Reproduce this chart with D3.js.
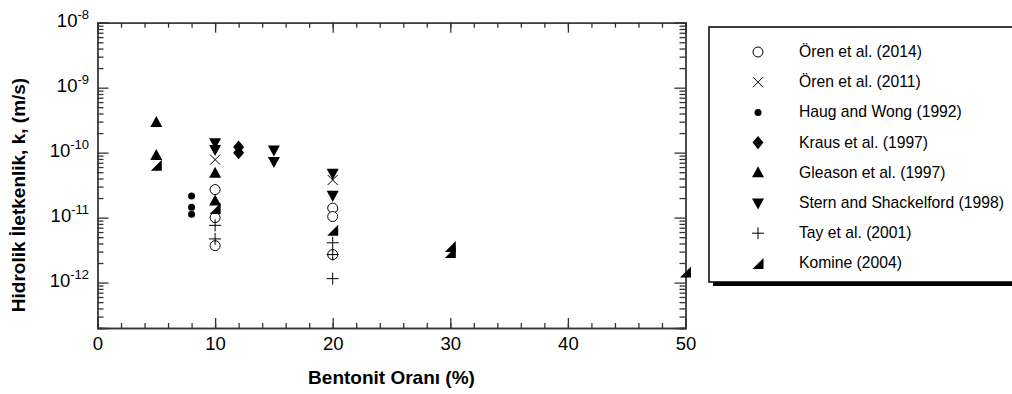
<!DOCTYPE html>
<html>
<head>
<meta charset="utf-8">
<script src="https://cdn.jsdelivr.net/npm/d3@7"></script>
<style>
  body { margin: 0; background: #fff; }
  text { font-family: "Liberation Sans", Arial, sans-serif; fill: #000; }
  .axis path, .axis line { stroke: #333; stroke-width: 1.3; }
</style>
</head>
<body>
<script>
// bentonite ratio (%) and hydraulic conductivity k (m/s)
var oren2014 = [[10, 2.7e-11], [10, 1.0e-11], [10, 3.7e-12], [20, 1.4e-11], [20, 1.04e-11], [20, 2.7e-12]];
var oren2011 = [[10, 7.8e-11], [20, 3.8e-11]];
var haugWong = [[8, 2.15e-11], [8, 1.45e-11], [8, 1.13e-11]];
var kraus = [[12, 1.22e-10], [12, 1.0e-10]];
var gleason = [[5, 2.9e-10], [5, 9.0e-11], [10, 4.8e-11], [10, 1.8e-11]];
var sternShack = [[10, 1.42e-10], [10, 1.12e-10], [15, 1.1e-10], [15, 7.3e-11], [20, 4.8e-11], [20, 2.2e-11]];
var tay = [[10, 7.6e-12], [10, 4.7e-12], [20, 4.1e-12], [20, 2.7e-12], [20, 1.15e-12]];
var komine = [[5, 6.4e-11], [10, 1.38e-11], [20, 6.4e-12], [30, 3.6e-12], [30, 2.9e-12], [50, 1.45e-12]];

var seriesNames = ["Ören et al. (2014)", "Ören et al. (2011)", "Haug and Wong (1992)", "Kraus et al. (1997)",
  "Gleason et al. (1997)", "Stern and Shackelford (1998)", "Tay et al. (2001)", "Komine (2004)"];
var seriesData = [oren2014, oren2011, haugWong, kraus, gleason, sternShack, tay, komine];

var xTickLabels = [0, 10, 20, 30, 40, 50];
var yDecades = [-12, -11, -10, -9, -8];

var width = 1012, height = 394;
var margin = {left: 97.5, right: 326.5, top: 22.7, bottom: 66};

var svg = d3.select("body").append("svg")
  .attr("width", width)
  .attr("height", height);

var x = d3.scaleLinear().domain([0, 50]).range([margin.left, width - margin.right]);
var y = d3.scaleLog().domain([2e-13, 1e-8]).range([height - margin.bottom, margin.top]);

// custom marker shapes, s = marker width in px
function shape(draw) { return {draw: function (ctx, size) { draw(ctx, Math.sqrt(size)); }}; }
var circleSym = shape(function (c, s) { var r = s / 2; c.moveTo(r, 0); c.arc(0, 0, r, 0, 2 * Math.PI); });
var xSym = shape(function (c, s) { var h = s / 2; c.moveTo(-h, -h); c.lineTo(h, h); c.moveTo(h, -h); c.lineTo(-h, h); });
var diamondSym = shape(function (c, s) { var w = s / 2, h = s * 0.6; c.moveTo(0, -h); c.lineTo(w, 0); c.lineTo(0, h); c.lineTo(-w, 0); c.closePath(); });
var triUpSym = shape(function (c, s) { var h = s / 2; c.moveTo(0, -h * 1.1); c.lineTo(h, h * 0.75); c.lineTo(-h, h * 0.75); c.closePath(); });
var triDownSym = shape(function (c, s) { var h = s / 2; c.moveTo(0, h * 1.1); c.lineTo(h, -h * 0.75); c.lineTo(-h, -h * 0.75); c.closePath(); });
var plusSym = shape(function (c, s) { var h = s / 2; c.moveTo(-h, 0); c.lineTo(h, 0); c.moveTo(0, -h); c.lineTo(0, h); });
var komineSym = shape(function (c, s) { var h = s / 2; c.moveTo(h, -h); c.lineTo(h, h); c.lineTo(-h, h); c.closePath(); });

var symStyles = [
  {type: circleSym, size: 10, fill: "#fff", stroke: "#000", sw: 1},
  {type: xSym, size: 10, fill: "none", stroke: "#000", sw: 1},
  {type: circleSym, size: 7, fill: "#000", stroke: "none", sw: 0},
  {type: diamondSym, size: 11, fill: "#000", stroke: "none", sw: 0},
  {type: triUpSym, size: 12, fill: "#000", stroke: "none", sw: 0},
  {type: triDownSym, size: 12, fill: "#000", stroke: "none", sw: 0},
  {type: plusSym, size: 12, fill: "none", stroke: "#000", sw: 1},
  {type: komineSym, size: 11, fill: "#000", stroke: "none", sw: 0}
];

function symPath(st) { return d3.symbol().type(st.type).size(st.size * st.size)(); }

// ticks
var xMinor = d3.range(0, 51, 2);
var yMinor = y.ticks().filter(function (v) { return Math.abs(Math.log10(v) - Math.round(Math.log10(v))) > 1e-6; });
var yMajor = yDecades.map(function (e) { return Math.pow(10, e); });

function addAxis(gen, tx, ty) {
  return svg.append("g").attr("class", "axis").attr("transform", "translate(" + tx + "," + ty + ")").call(gen);
}
var bottomY = height - margin.bottom, rightX = width - margin.right;
addAxis(d3.axisBottom(x).tickValues(xMinor).tickSize(-5).tickFormat(""), 0, bottomY);
addAxis(d3.axisTop(x).tickValues(xMinor).tickSize(-5).tickFormat(""), 0, margin.top);
addAxis(d3.axisLeft(y).tickValues(yMinor).tickSize(-6).tickFormat(""), margin.left, 0);
addAxis(d3.axisRight(y).tickValues(yMinor).tickSize(-6).tickFormat(""), rightX, 0);
var xAx = addAxis(d3.axisBottom(x).tickValues(xTickLabels).tickSize(-10).tickPadding(9).tickFormat(d3.format("d")), 0, bottomY);
xAx.selectAll("text").style("font-size", "18.5px");
addAxis(d3.axisTop(x).tickValues(xTickLabels).tickSize(-10).tickFormat(""), 0, margin.top);
addAxis(d3.axisLeft(y).tickValues(yMajor).tickSize(-11).tickFormat(""), margin.left, 0);
addAxis(d3.axisRight(y).tickValues(yMajor).tickSize(-11).tickFormat(""), rightX, 0);
svg.selectAll(".axis path.domain").attr("stroke", "#333");

// y tick labels as 10^n
yDecades.forEach(function (e) {
  var t = svg.append("text")
    .attr("x", 89)
    .attr("y", y(Math.pow(10, e)) + 4)
    .attr("text-anchor", "end")
    .style("font-size", "18.5px");
  t.append("tspan").text("10");
  t.append("tspan").attr("dy", -8).style("font-size", "13px").text("-" + (-e));
});

// axis titles
svg.append("text")
  .attr("x", (margin.left + rightX) / 2)
  .attr("y", 384)
  .attr("text-anchor", "middle")
  .style("font-size", "19px").style("font-weight", "bold")
  .text("Bentonit Oranı (%)");
svg.append("text")
  .attr("transform", "translate(25,195) rotate(-90)")
  .attr("text-anchor", "middle")
  .style("font-size", "19px").style("font-weight", "bold")
  .text("Hidrolik İletkenlik, k, (m/s)");

// points
seriesData.forEach(function (data, i) {
  var st = symStyles[i];
  svg.append("g").selectAll("path")
    .data(data)
    .enter()
    .append("path")
    .attr("d", symPath(st))
    .attr("transform", function (d) { return "translate(" + x(d[0]) + "," + y(d[1]) + ")"; })
    .attr("fill", st.fill)
    .attr("stroke", st.stroke)
    .attr("stroke-width", st.sw);
});

// legend
var lg = svg.append("g");
lg.append("rect").attr("x", 713).attr("y", 31).attr("width", 320).attr("height", 255).attr("fill", "#000");
lg.append("rect").attr("x", 709).attr("y", 27).attr("width", 320).attr("height", 255)
  .attr("fill", "#fff").attr("stroke", "#000").attr("stroke-width", 1.5);
seriesNames.forEach(function (name, i) {
  var st = symStyles[i];
  var ry = 52 + i * 30.2;
  lg.append("path")
    .attr("d", symPath(st))
    .attr("transform", "translate(758," + ry + ")")
    .attr("fill", st.fill)
    .attr("stroke", st.stroke)
    .attr("stroke-width", st.sw);
  lg.append("text")
    .attr("x", 799)
    .attr("y", ry + 5)
    .style("font-size", "15.7px")
    .text(name);
});
</script>
</body>
</html>
